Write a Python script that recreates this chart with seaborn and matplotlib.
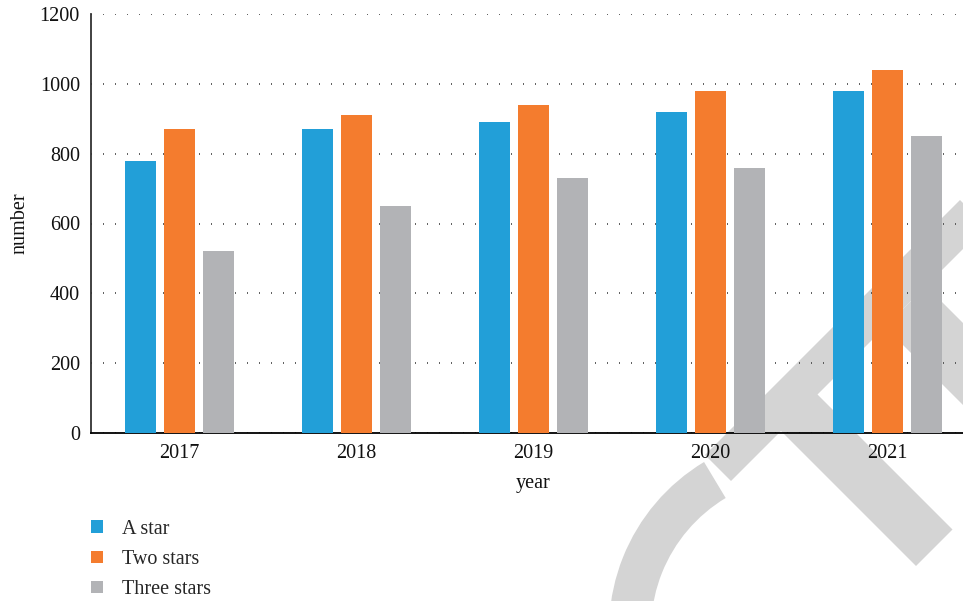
import pandas as pd
import matplotlib
matplotlib.use("Agg")
import matplotlib.pyplot as plt
from matplotlib.patches import Polygon, Wedge
import seaborn as sns

# Data
years = ["2017", "2018", "2019", "2020", "2021"]
series = ["A star", "Two stars", "Three stars"]
a_star = [780, 870, 890, 920, 980]
two_stars = [870, 910, 940, 980, 1040]
three_stars = [520, 650, 730, 760, 850]
colors = ["#229fd8", "#f47c2e", "#b2b3b6"]

df = pd.DataFrame({
    "year": years * 3,
    "number": a_star + two_stars + three_stars,
    "series": [s for s in series for _ in years],
})

sns.set_style("white")
plt.rcParams["font.family"] = ["Liberation Serif", "DejaVu Serif"]

fig = plt.figure(figsize=(9.63, 6.01), dpi=100)

# faint watermark behind the chart (pixel coordinates)
bg = fig.add_axes([0, 0, 1, 1], zorder=-1)
bg.set_xlim(0, 963)
bg.set_ylim(601, 0)
bg.axis("off")
wm = "#d4d4d4"


def band(s0, s1, d0, d1):
    # band between lines x+y=s and x-y=d
    pts = [((s + d) / 2, (s - d) / 2) for s, d in [(s0, d0), (s1, d0), (s1, d1), (s0, d1)]]
    return Polygon(pts, closed=True, facecolor=wm, edgecolor="none")


bg.add_patch(band(1160, 1212, 250, 760))
bg.add_patch(band(1180, 1482, 350, 423))
bg.add_patch(band(1212, 1420, 558, 640))
bg.add_patch(Wedge((805, 630), 196, 90, 239, width=42, facecolor=wm, edgecolor="none"))

ax = fig.add_axes([91 / 963, 1 - 433 / 601, 885 / 963, 419 / 601])
ax.set_facecolor("none")

sns.barplot(data=df, x="year", y="number", hue="series", palette=colors,
            width=0.66, gap=0.2, saturation=1, linewidth=0, ax=ax, zorder=3)

ax.set_xlim(-0.5, 4.5)
ax.set_ylim(0, 1200)
ax.set_yticks(range(0, 1201, 200))

ax.yaxis.grid(True, color="#444444", linewidth=1.2, linestyle=(0, (0.6, 6.6)), zorder=0)
ax.xaxis.grid(False)
ax.set_axisbelow(True)

for side in ["top", "right"]:
    ax.spines[side].set_visible(False)
ax.spines["left"].set_color("#333333")
ax.spines["left"].set_linewidth(1.3)
ax.spines["bottom"].set_color("black")
ax.spines["bottom"].set_linewidth(1.3)

ax.tick_params(axis="both", length=0, labelsize=14.5, colors="#111111")
ax.tick_params(axis="y", pad=8)
ax.tick_params(axis="x", pad=8)

ax.set_xlabel("year", fontsize=14.5, labelpad=8, color="#111111")
ax.set_ylabel("number", fontsize=14.5, labelpad=7, color="#111111")

handles, labels = ax.get_legend_handles_labels()
ax.legend(handles, labels, loc="upper left", bbox_to_anchor=(0.076, 0.165),
          bbox_transform=fig.transFigure, frameon=False, fontsize=14.5,
          handlelength=0.6, handleheight=0.6, handletextpad=0.9, labelspacing=0.55)

fig.savefig("out.png", dpi=100)
